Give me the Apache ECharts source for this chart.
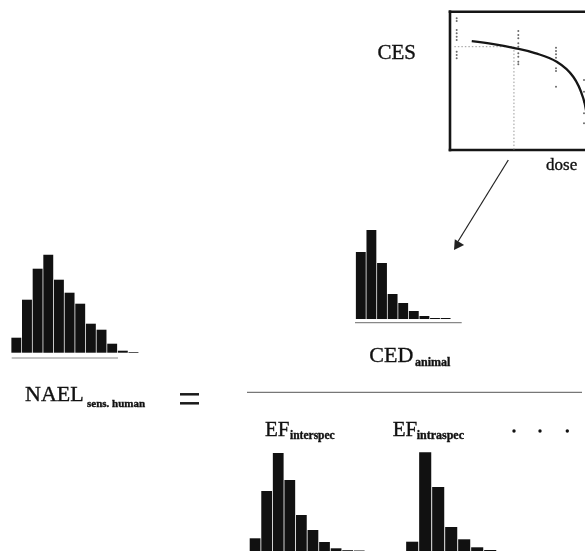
<!DOCTYPE html>
<html><head><meta charset="utf-8">
<script src="https://cdn.jsdelivr.net/npm/echarts@6/dist/echarts.min.js"></script>
<style>html,body{margin:0;padding:0;background:#fff;overflow:hidden}#c{width:585px;height:553px}</style>
</head><body><div id="c"></div>
<script>
// ---- histogram data (relative frequencies per bin) ----
const naelBins = ['1','2','3','4','5','6','7','8','9','10','11','12'];
const naelFreq = [15, 53, 84, 98, 73, 60, 49, 29, 23, 9, 2, 0.7];
const cedBins = ['1','2','3','4','5','6','7','8','9'];
const cedFreq = [67, 89, 56, 25, 16, 8, 3, 1, 1];
const efInterBins = ['1','2','3','4','5','6','7','8','9','10'];
const efInterFreq = [12.7, 60, 98, 71, 36, 21, 9, 2.7, 0.8, 0.5];
const efIntraBins = ['1','2','3','4','5','6','7'];
const efIntraFreq = [9.3, 98.7, 64, 24, 11.7, 3.7, 1];
// ---- dose-response inset ----
const curveDose = [1.5, 3.0, 4.37, 5.86, 7.36, 8.5, 9.19, 9.52];
const curveResp = [7.88, 7.66, 7.39, 7.01, 6.38, 5.3, 3.74, 1.8];
const obsDose = [0.46,0.46,0.46,0.46,0.46,0.46,0.46,0.46,0.46,
                 4.71,4.71,4.71,4.71,4.71,4.71,4.71,4.71,4.71,
                 7.31,7.31,7.31,7.31,7.31,7.31,7.31,
                 9.24,9.24,9.24,9.24,9.24];
const obsResp = [9.52,9.33,8.68,8.44,8.19,7.95,7.11,6.87,6.63,
                 8.60,8.31,8.08,7.71,7.47,6.99,6.75,6.38,6.20,
                 7.40,7.16,6.92,6.67,5.91,5.71,4.58,
                 5.06,4.22,3.49,2.65,1.93];
const cesDose = [0.3, 4.41, 4.41];
const cesResp = [7.47, 7.47, 0];
const doseMax = 9.31;   // visible part of the dose axis (the plot is cut at the right)
// ---- labels ----
const labelCES = 'CES';
const labelDose = 'dose';
const labelCED = 'CED', subCED = 'animal';
const labelNAEL = 'NAEL', subNAEL = 'sens. human';
const labelEF = 'EF', subInter = 'interspec', subIntra = 'intraspec';

const serif = '"Liberation Serif", "DejaVu Serif", serif';
const pairs = (a, b) => a.map((v, i) => [v, b[i]]);

const chart = echarts.init(document.getElementById('c'), null, {renderer: 'canvas', width: 585, height: 553});

function catAxis(gi, data) {
  return {type: 'category', gridIndex: gi, data: data, show: false, boundaryGap: true};
}
function valAxis(gi) {
  return {type: 'value', gridIndex: gi, min: 0, max: 100, show: false};
}
function bar(xi, data) {
  return {type: 'bar', xAxisIndex: xi, yAxisIndex: xi, data: data, barCategoryGap: '7%',
          itemStyle: {color: '#111'}, silent: true, animation: false};
}
function txt(t, x, y, font, align) {
  return {type: 'text', style: {text: t, x: x, y: y, font: font, textAlign: align || 'left',
          textVerticalAlign: 'middle', verticalAlign: 'middle', fill: '#111', stroke: '#111', lineWidth: 0.35}};
}
function seg(x1, y1, x2, y2, color, w) {
  return {type: 'line', shape: {x1: x1, y1: y1, x2: x2, y2: y2}, style: {stroke: color, lineWidth: w}};
}

const option = {
  backgroundColor: '#fff',
  animation: false,
  grid: [
    {left: 450, top: 11.7, width: 135, height: 138.3, show: false},
    {left: 11, top: 252.7, width: 127.8, height: 100},
    {left: 355.5, top: 219, width: 95.4, height: 100},
    {left: 249.3, top: 451, width: 115.7, height: 100},
    {left: 405.7, top: 451, width: 91, height: 100}
  ],
  xAxis: [
    {type: 'value', gridIndex: 0, min: 0, max: doseMax, show: false},
    catAxis(1, naelBins), catAxis(2, cedBins), catAxis(3, efInterBins), catAxis(4, efIntraBins)
  ],
  yAxis: [
    {type: 'value', gridIndex: 0, min: 0, max: 10, show: false},
    valAxis(1), valAxis(2), valAxis(3), valAxis(4)
  ],
  series: [
    {type: 'line', xAxisIndex: 0, yAxisIndex: 0, data: pairs(cesDose, cesResp), showSymbol: false,
     lineStyle: {color: '#999', width: 1, type: [1.5, 2]}},
    {type: 'line', xAxisIndex: 0, yAxisIndex: 0, data: pairs(curveDose, curveResp), smooth: 0.4, showSymbol: false,
     clip: true, lineStyle: {color: '#161616', width: 2.3}},
    {type: 'scatter', xAxisIndex: 0, yAxisIndex: 0, data: pairs(obsDose, obsResp), symbolSize: 2,
     itemStyle: {color: '#444'}},
    bar(1, naelFreq), bar(2, cedFreq), bar(3, efInterFreq), bar(4, efIntraFreq)
  ],
  graphic: [
    seg(450, 10.4, 450, 151.3, '#151515', 2.6),
    seg(448.7, 11.7, 585, 11.7, '#151515', 2.6),
    seg(448.7, 150, 585, 150, '#151515', 2.6),
    txt(labelCES, 396.7, 53.3, '21px ' + serif, 'center'),
    txt(labelDose, 561.7, 165.7, '17px ' + serif, 'center'),
    txt(labelCED, 369.3, 355.8, '22px ' + serif),
    txt(subCED, 415, 362.6, 'bold 12px ' + serif),
    txt(labelNAEL, 25, 395.3, '22px ' + serif),
    txt(subNAEL, 87, 404.6, 'bold 11px ' + serif),
    txt(labelEF, 265, 430.5, '21px ' + serif),
    txt(subInter, 290, 436, 'bold 11.5px ' + serif),
    txt(labelEF, 392.7, 430.5, '21px ' + serif),
    txt(subIntra, 416.7, 436, 'bold 12px ' + serif),
    {type: 'circle', shape: {cx: 514, cy: 431, r: 1.7}, style: {fill: '#111'}},
    {type: 'circle', shape: {cx: 540, cy: 431, r: 1.7}, style: {fill: '#111'}},
    {type: 'circle', shape: {cx: 567.3, cy: 431, r: 1.7}, style: {fill: '#111'}},
    seg(180, 394.3, 199, 394.3, '#1a1a1a', 2.5),
    seg(180, 403.3, 199, 403.3, '#1a1a1a', 2.5),
    seg(247, 392.3, 582, 392.3, '#777', 1.3),
    seg(11.7, 358, 118, 358, '#888', 1.2),
    seg(355, 322.7, 461.7, 322.7, '#888', 1.2),
    seg(508.3, 160, 458, 241.5, '#222', 1.2),
    {type: 'polygon', shape: {points: [[454, 250], [464.1, 244.9], [454.8, 239.3]]}, style: {fill: '#222'}}
  ]
};
chart.setOption(option);
</script>
</body></html>
